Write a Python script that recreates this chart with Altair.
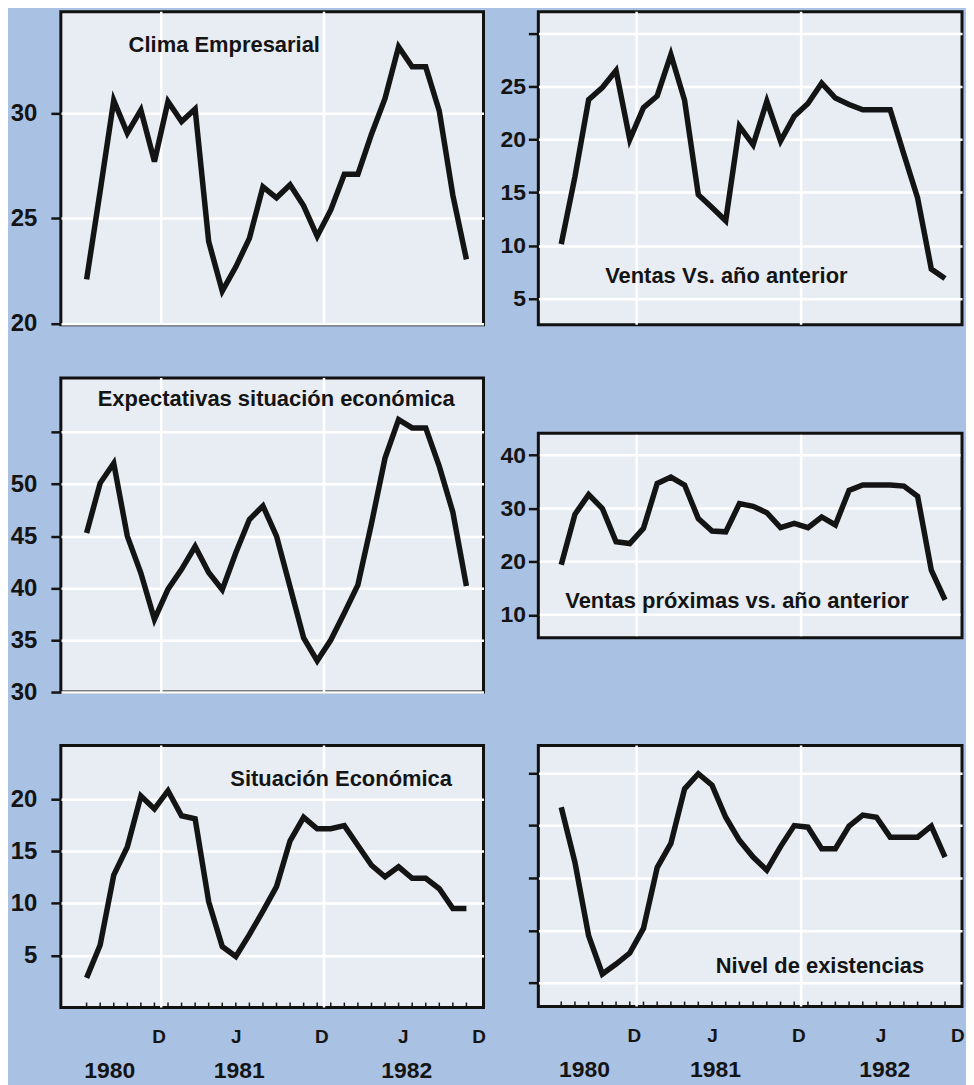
import altair as alt
import pandas as pd

# Month positions (Jan 1980 = 1 ... Dec 1982 = 36), one point per month
MONTHS = [6.5, 7.5, 8.5, 9.5, 10.5, 11.5, 12.5, 13.5, 14.5, 15.5,
          16.5, 17.5, 18.5, 19.5, 20.5, 21.5, 22.5, 23.5, 24.5, 25.5,
          26.5, 27.5, 28.5, 29.5, 30.5, 31.5, 32.5, 33.5, 34.5]

CLIMA = [22.1, 26.3, 30.6, 29.05, 30.15, 27.7, 30.55, 29.6, 30.2, 23.9,
         21.55, 22.7, 24.05, 26.5, 25.98, 26.6, 25.6, 24.15, 25.4, 27.1,
         27.1, 29.0, 30.7, 33.15, 32.2, 32.2, 30.1, 26.1, 23.05]

VENTAS = [10.15, 16.5, 23.75, 24.9, 26.5, 20.0, 23.0, 24.1, 28.0, 23.7,
          14.8, 13.6, 12.35, 21.25, 19.5, 23.6, 19.85, 22.2, 23.4, 25.3,
          23.9, 23.3, 22.8, 22.8, 22.8, 18.6, 14.5, 7.8, 6.9]

EXPECTATIVAS = [45.3, 50.1, 52.0, 45.0, 41.45, 37.0, 39.9, 41.8, 44.0, 41.5,
                39.85, 43.4, 46.6, 47.9, 45.0, 40.1, 35.2, 33.0, 35.0, 37.6,
                40.3, 46.2, 52.5, 56.2, 55.4, 55.4, 51.7, 47.3, 40.2]

PROXIMAS = [19.4, 28.9, 32.6, 30.0, 23.75, 23.4, 26.25, 34.7, 35.9, 34.4,
            28.1, 25.75, 25.6, 30.9, 30.4, 29.2, 26.4, 27.2, 26.4, 28.4,
            26.9, 33.4, 34.4, 34.4, 34.4, 34.2, 32.3, 18.4, 12.8]

SITUACION = [2.85, 6.0, 12.7, 15.4, 20.3, 19.05, 20.8, 18.4, 18.1, 10.15,
             5.85, 4.9, 7.0, 9.25, 11.6, 16.0, 18.25, 17.15, 17.15, 17.45,
             15.55, 13.65, 12.55, 13.5, 12.4, 12.4, 11.4, 9.5, 9.5]

EXISTENCIAS = [4.35, 3.3, 1.9, 1.17, 1.36, 1.57, 2.04, 3.2, 3.66, 4.7,
               4.99, 4.77, 4.16, 3.72, 3.4, 3.15, 3.6, 4.0, 3.97, 3.56,
               3.56, 3.99, 4.2, 4.16, 3.78, 3.78, 3.78, 3.99, 3.4]

TICK_POS = [11.8, 17.5, 23.8, 29.8, 35.4]     # where the letters are printed
TICK_LETTERS = ["D", "J", "D", "J", "D"]
GRID_MONTHS = [12, 24]
YEARS = ["1980", "1981", "1982"]
YEAR_POS = [8.2, 17.75, 30.1]
P4_TICKS = [10, 20, 30, 40]

FONT = "Liberation Sans"
INK = "#141414"
PANEL = "#e8edf3"
BORDER = "#111111"

letter_expr = " : ".join(
    f"abs(datum.value - {m}) < 0.01 ? '{l}'" for m, l in zip(TICK_POS, TICK_LETTERS)
) + " : ''"


def title_layer(title, tx, ty):
    return alt.Chart(pd.DataFrame({"t": [title]})).mark_text(
        align="left", baseline="middle", font=FONT, fontWeight="bold",
        fontSize=22, color=INK
    ).encode(text="t:N", x=alt.value(tx), y=alt.value(ty))


def panel(values, title, w, h, xdom, ydom, yvals, tx, ty, side,
          hidden=None, show_labels=True, bottom=False):
    xs = alt.Scale(domain=xdom, nice=False, zero=False)
    ys = alt.Scale(domain=ydom, nice=False, zero=False)
    df = pd.DataFrame({"m": MONTHS, "v": values})

    if hidden is not None:
        lexpr = f"datum.value == {hidden} ? '' : datum.label"
    else:
        lexpr = "datum.label"
    yaxis = alt.Axis(values=yvals, title=None, grid=True, labels=show_labels,
                     labelExpr=lexpr, tickSize=10,
                     labelFontSize=24 if side == "left" else 23,
                     labelPadding=14 if side == "left" else 3)
    if bottom:
        xaxis = alt.Axis(values=TICK_POS, labelExpr=letter_expr, title=None,
                         ticks=False, grid=False, labelPadding=20,
                         labelFontSize=19, labelFlush=False, labelOverlap=False)
    else:
        xaxis = None

    grid = alt.Chart(pd.DataFrame({"m": GRID_MONTHS})).mark_rule(
        color="white", strokeWidth=2.5
    ).encode(x=alt.X("m:Q", scale=xs, axis=xaxis))

    line = alt.Chart(df).mark_line(
        color=INK, strokeWidth=5.5, strokeJoin="miter"
    ).encode(
        x=alt.X("m:Q", scale=xs, axis=xaxis),
        y=alt.Y("v:Q", scale=ys, axis=yaxis),
    )

    layers = [grid, line, title_layer(title, tx, ty)]
    if bottom:
        minor = alt.Chart(pd.DataFrame({"m": MONTHS})).mark_rule(
            color=INK, strokeWidth=1.5
        ).encode(x=alt.X("m:Q", scale=xs, axis=xaxis),
                 y=alt.value(h - 5), y2=alt.value(h))
        years = alt.Chart(pd.DataFrame({"y": YEARS, "p": YEAR_POS})).mark_text(
            align="center", baseline="middle", font=FONT, fontWeight="bold",
            fontSize=23, color=INK
        ).encode(text="y:N", x=alt.X("p:Q", scale=xs, axis=xaxis),
                 y=alt.value(h + 64))
        layers = [grid, minor, line, layers[2], years]

    return alt.layer(*layers).properties(width=w, height=h)


def floating_panel(values, title, w, h, box_top, box_bottom, xdom, ydom,
                   tx, ty):
    """Panel whose framed box sits lower inside a taller grid cell."""
    xs = alt.Scale(domain=xdom, nice=False, zero=False)
    ys = alt.Scale(domain=ydom, nice=False, zero=False)
    yaxis = alt.Axis(values=P4_TICKS, title=None, grid=False, tickSize=10,
                     labelFontSize=23, labelPadding=3)

    box = alt.Chart(pd.DataFrame({"b": [0]})).mark_rect(
        fill=PANEL, stroke=BORDER, strokeWidth=3
    ).encode(x=alt.value(0), x2=alt.value(w),
             y=alt.value(box_top), y2=alt.value(box_bottom))

    hgrid = alt.Chart(pd.DataFrame({"v": P4_TICKS})).mark_rule(
        color="white", strokeWidth=2.5
    ).encode(y=alt.Y("v:Q", scale=ys, axis=yaxis),
             x=alt.value(1.5), x2=alt.value(w - 1.5))

    vgrid = alt.Chart(pd.DataFrame({"m": GRID_MONTHS})).mark_rule(
        color="white", strokeWidth=2.5
    ).encode(x=alt.X("m:Q", scale=xs, axis=None),
             y=alt.value(box_top + 1.5), y2=alt.value(box_bottom - 1.5))

    line = alt.Chart(pd.DataFrame({"m": MONTHS, "v": values})).mark_line(
        color=INK, strokeWidth=5.5, strokeJoin="miter"
    ).encode(x=alt.X("m:Q", scale=xs, axis=None),
             y=alt.Y("v:Q", scale=ys, axis=yaxis))

    return alt.layer(
        box, hgrid, vgrid, line, title_layer(title, tx, box_top + ty)
    ).properties(
        width=w, height=h,
        view=alt.ViewBackground(fill="transparent", stroke="transparent"),
    )


LX = [4.6, 35.76]
RX = [4.83, 35.74]
LW, RW = 424, 425

p1 = panel(CLIMA, "Clima Empresarial", LW, 314, LX, [19.95, 34.82],
           [20, 25, 30], 68, 33, "left")
p3 = panel(EXPECTATIVAS, "Expectativas situación económica", LW, 315, LX,
           [30.0, 60.2], [30, 35, 40, 45, 50, 55], 37, 21, "left", hidden=55)
p5 = panel(SITUACION, "Situación Económica", LW, 263, LX, [0.0, 25.15],
           [5, 10, 15, 20], 170, 34, "left", bottom=True)

p2 = panel(VENTAS, "Ventas Vs. año anterior", RW, 314, RX, [2.56, 32.04],
           [5, 10, 15, 20, 25, 30], 67, 265, "right", hidden=30)
p4 = floating_panel(PROXIMAS, "Ventas próximas vs. año anterior", RW, 315,
                    55.5, 260.5, RX, [-4.53, 54.53], 27, 168)
p6 = panel(EXISTENCIAS, "Nivel de existencias", RW, 262, RX, [0.55, 5.53],
           [1, 2, 3, 4, 5], 178, 221, "right", show_labels=False, bottom=True)

chart = alt.concat(
    p1, p2, p3, p4, p5, p6,
    columns=2,
    spacing={"row": 53.5, "column": 55},
    bounds="flush",
).properties(
    background="#a9c1e2",
    padding={"left": 0, "top": -1, "right": 0, "bottom": 0},
).configure_view(
    stroke=BORDER, strokeWidth=3, fill=PANEL
).configure_axis(
    labelFont=FONT, labelFontWeight="bold", labelColor=INK, labelFontSize=23,
    domain=False, gridColor="#ffffff", gridWidth=2.5, tickColor=INK,
    tickWidth=2.5
)

chart.save("out.html", embed_options={"renderer": "svg", "actions": False})
